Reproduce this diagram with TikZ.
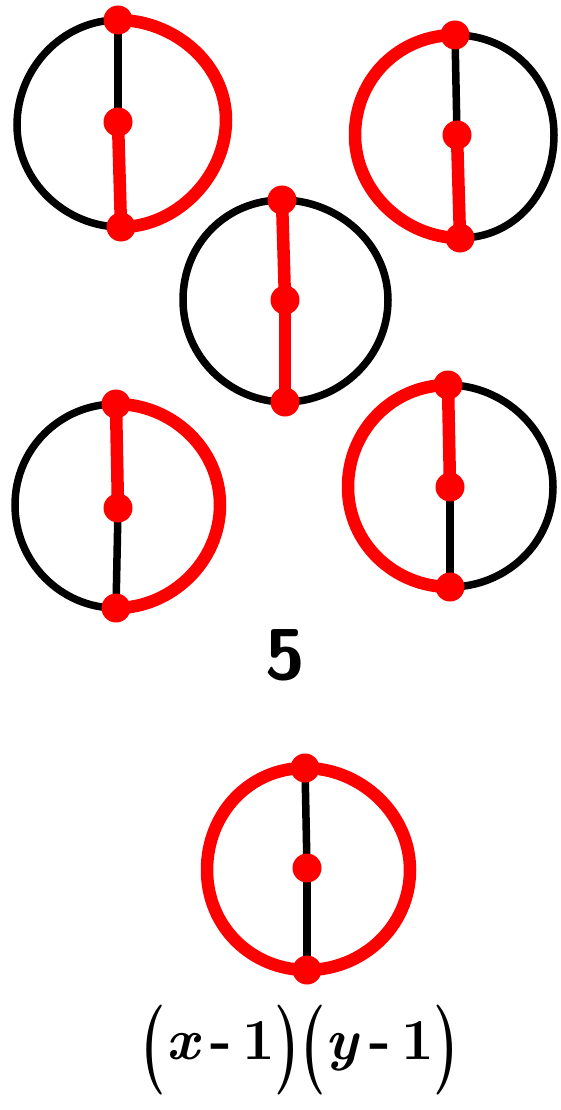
\documentclass[tikz,border=0pt]{standalone}
\usepackage{graphicx}
\tikzset{
  blk/.style={draw=black,line width=7.5pt,line cap=round},
  rd/.style={draw=red,line width=12.5pt,line cap=round},
  vdot/.style={circle,fill=red,minimum size=29pt,inner sep=0pt},
  bigtxt/.style={font=\fontsize{58}{64}\selectfont\bfseries},
  numtxt/.style={font=\fontsize{72}{80}\selectfont\sffamily\bfseries},
}
\newcommand\tallparen[1]{\raisebox{-0.22em}{\scalebox{1}[1.55]{#1}}}
% #1 prefix, #2 left style, #3 right style, #4 upper style, #5 lower style
\newcommand\thetaedges[5]{%
  \path[#2] (#1T) .. controls +(-55,0) and +(0,-57) .. (#1L) .. controls +(0,57) and +(-55,0) .. (#1B);
  \path[#3] (#1T) .. controls +(55,0) and +(0,-57) .. (#1R) .. controls +(0,57) and +(55,0) .. (#1B);
  \path[#4] (#1T) -- (#1M);
  \path[#5] (#1M) -- (#1B);
}
\newcommand\thetadots[1]{%
  \node[vdot] (#1dT) at (#1T) {};
  \node[vdot] (#1dM) at (#1M) {};
  \node[vdot] (#1dB) at (#1B) {};
}
\begin{document}
\begin{tikzpicture}[x=1pt,y=-1pt]
\useasboundingbox (0,0) rectangle (560,1110);
% graph 1
\coordinate (aT) at (118,20); \coordinate (aM) at (118,122); \coordinate (aB) at (121,227);
\coordinate (aL) at (17,125); \coordinate (aR) at (226,120);
% graph 2
\coordinate (bT) at (455,35); \coordinate (bM) at (457,135); \coordinate (bB) at (460,238);
\coordinate (bL) at (355,135); \coordinate (bR) at (554,135);
% graph 3
\coordinate (cT) at (282,200); \coordinate (cM) at (285,300); \coordinate (cB) at (285,402);
\coordinate (cL) at (183,300); \coordinate (cR) at (388,300);
% graph 4
\coordinate (dT) at (116,404); \coordinate (dM) at (118,508); \coordinate (dB) at (116,608);
\coordinate (dL) at (15,505); \coordinate (dR) at (220,505);
% graph 5
\coordinate (eT) at (448,385); \coordinate (eM) at (450,487); \coordinate (eB) at (450,587);
\coordinate (eL) at (348,487); \coordinate (eR) at (553,487);
% graph 6
\coordinate (fT) at (305,768); \coordinate (fM) at (307,868); \coordinate (fB) at (307,970);
\coordinate (fL) at (207,870); \coordinate (fR) at (410,870);

\thetaedges{a}{blk}{rd}{blk}{rd}
\thetaedges{b}{rd}{blk}{blk}{rd}
\thetaedges{c}{blk}{blk}{rd}{rd}
\thetaedges{d}{blk}{rd}{rd}{blk}
\thetaedges{e}{rd}{blk}{rd}{blk}
\thetaedges{f}{rd}{rd}{blk}{blk}

\thetadots{a}\thetadots{b}\thetadots{c}\thetadots{d}\thetadots{e}\thetadots{f}

\node[numtxt] (five) at (285,655) {5};
\node[bigtxt] (poly) at (300,1050) {\tallparen{(}\textit{x}\,-\,1\tallparen{)}\tallparen{(}\textit{y}\,-\,1\tallparen{)}};
\end{tikzpicture}
\end{document}
